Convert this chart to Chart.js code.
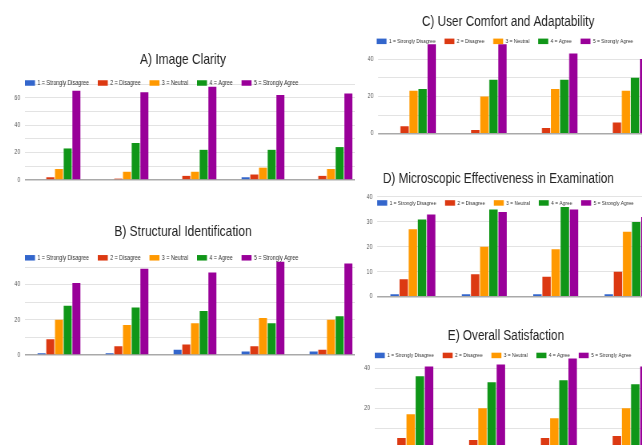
<!DOCTYPE html>
<html>
<head>
<meta charset="utf-8">
<script src="https://cdn.jsdelivr.net/npm/chart.js@4"></script>
<style>
html,body{margin:0;padding:0;background:#fff;width:642px;height:445px;overflow:hidden}
.clip{position:absolute;overflow:hidden}
.box{position:absolute;transform:scaleX(0.8);transform-origin:0 0}
</style>
</head>
<body>
<div class="clip" style="left:0;top:0;width:355px;height:445px">
  <div class="box" id="boxA"><canvas id="chA"></canvas></div>
  <div class="box" id="boxB"><canvas id="chB"></canvas></div>
</div>
<div class="box" id="boxC"><canvas id="chC"></canvas></div>
<div class="box" id="boxD"><canvas id="chD"></canvas></div>
<div class="box" id="boxE"><canvas id="chE"></canvas></div>

<script>
// answer levels (one dataset each) and google-ish colours
const answers = ['1 = Strongly Disagree', '2 = Disagree', '3 = Neutral', '4 = Agree', '5 = Strongly Agree']
const colors = ['#3366cc', '#dc3912', '#ff9900', '#109618', '#990099']

const questions5 = ['Q1', 'Q2', 'Q3', 'Q4', 'Q5']
const questions4 = ['Q1', 'Q2', 'Q3', 'Q4']

// rows = answer level, columns = question group
const clarity = [
  [0, 0, 0, 2, 0],
  [2, 1, 3, 4, 3],
  [8, 6, 6, 9, 8],
  [23, 27, 22, 22, 24],
  [65, 64, 68, 62, 63]
]
const structural = [
  [1, 1, 3, 2, 2],
  [9, 5, 6, 5, 3],
  [20, 17, 18, 21, 20],
  [28, 27, 25, 18, 22],
  [41, 49, 47, 53, 52]
]
const comfort = [
  [0, 0, 0, 0],
  [4, 2, 3, 6],
  [23, 20, 24, 23],
  [24, 29, 29, 30],
  [48, 48, 43, 40]
]
const microscopic = [
  [1, 1, 1, 1],
  [7, 9, 8, 10],
  [27, 20, 19, 26],
  [31, 35, 36, 30],
  [33, 34, 35, 32]
]
const satisfaction = [
  [0, 0, 0, 0],
  [5, 4, 5, 6],
  [17, 20, 15, 20],
  [36, 33, 34, 32],
  [41, 42, 45, 41]
]

// small legend drawn like the google one (sits on top of the plot)
const miniLegend = {
  id: 'miniLegend',
  afterDatasetsDraw(chart, args, o) {
    const ctx = chart.ctx
    let x = chart.chartArea.left + o.dx
    const y = chart.chartArea.top + o.dy
    ctx.save()
    ctx.font = o.size + 'px "Liberation Sans", Arial, sans-serif'
    ctx.textBaseline = 'middle'
    chart.data.datasets.forEach(ds => {
      ctx.fillStyle = ds.backgroundColor
      ctx.fillRect(x, y - 2.75, 12.5, 5.5)
      x += 12.5 + 3
      ctx.fillStyle = '#333'
      ctx.fillText(ds.label, x, y)
      x += ctx.measureText(ds.label).width + 11
    })
    ctx.restore()
  }
}

function drawChart(id, o) {
  const box = document.getElementById('box' + id)
  box.style.left = o.left + 'px'
  box.style.top = o.top + 'px'
  box.style.width = o.w + 'px'
  box.style.height = o.h + 'px'

  new Chart(document.getElementById('ch' + id), {
    type: 'bar',
    data: {
      labels: o.labels,
      datasets: answers.map((a, i) => ({
        label: a,
        data: o.rows[i],
        backgroundColor: colors[i],
        categoryPercentage: 0.64,
        barPercentage: 0.92
      }))
    },
    options: {
      responsive: true,
      maintainAspectRatio: false,
      animation: false,
      layout: { padding: { left: 0, right: 0, top: 0, bottom: o.padBottom } },
      plugins: {
        legend: { display: false },
        tooltip: { enabled: false },
        title: {
          display: true,
          text: o.title,
          color: '#222',
          font: { family: '"Liberation Sans", Arial, sans-serif', size: o.titleSize, weight: 'normal' },
          padding: { top: o.padTop, bottom: o.padTitle }
        },
        miniLegend: { dx: o.legDx, dy: o.legDy, size: o.legSize }
      },
      scales: {
        x: { display: false },
        y: {
          min: 0,
          max: o.max,
          afterFit: s => { s.width = o.yw },
          border: { display: false },
          grid: {
            drawTicks: false,
            color: c => c.tick.value === 0 ? '#a9a9a9' : (c.tick.value % 10 ? 'rgba(0,0,0,0)' : '#e3e3e3'),
            lineWidth: c => c.tick.value === 0 ? 1.6 : 1
          },
          ticks: {
            stepSize: 10,
            autoSkip: false,
            padding: 6,
            color: '#555',
            font: { family: '"Liberation Sans", Arial, sans-serif', size: 6.5 },
            callback: v => v % o.every === 0 ? v : ''
          }
        }
      }
    },
    plugins: [miniLegend]
  })
}

drawChart('A', {
  title: 'A) Image Clarity', rows: clarity, labels: questions5,
  left: 1, top: 40, w: 455, h: 150, padTop: 11, padTitle: 15, padBottom: 10,
  max: 70, every: 20, yw: 30, titleSize: 15, legSize: 6.7, legDx: 0, legDy: -1
})
drawChart('B', {
  title: 'B) Structural Identification', rows: structural, labels: questions5,
  left: 1, top: 212, w: 455, h: 155, padTop: 11, padTitle: 13.8, padBottom: 12,
  max: 57, every: 20, yw: 30, titleSize: 15, legSize: 6.7, legDx: 0, legDy: 3
})
drawChart('C', {
  title: 'C) User Comfort and Adaptability', rows: comfort, labels: questions4,
  left: 354.8, top: 0, w: 383, h: 145, padTop: 13, padTitle: 11.7, padBottom: 11.3,
  max: 49, every: 20, yw: 29, titleSize: 14.7, legSize: 6.05, legDx: -2, legDy: -1
})
drawChart('D', {
  title: 'D) Microscopic Effectiveness in Examination', rows: microscopic, labels: questions4,
  left: 334, top: 160, w: 411, h: 150, padTop: 10, padTitle: 9.3, padBottom: 13.3,
  max: 40, every: 10, yw: 54, titleSize: 14.7, legSize: 6.05, legDx: 0, legDy: 6
})
drawChart('E', {
  title: 'E) Overall Satisfaction', rows: satisfaction, labels: questions4,
  left: 350.2, top: 315, w: 390, h: 145, padTop: 11.8, padTitle: 12, padBottom: 12,
  max: 46, every: 20, yw: 31, titleSize: 14.7, legSize: 6.05, legDx: 0, legDy: -1
})
</script>
</body>
</html>
